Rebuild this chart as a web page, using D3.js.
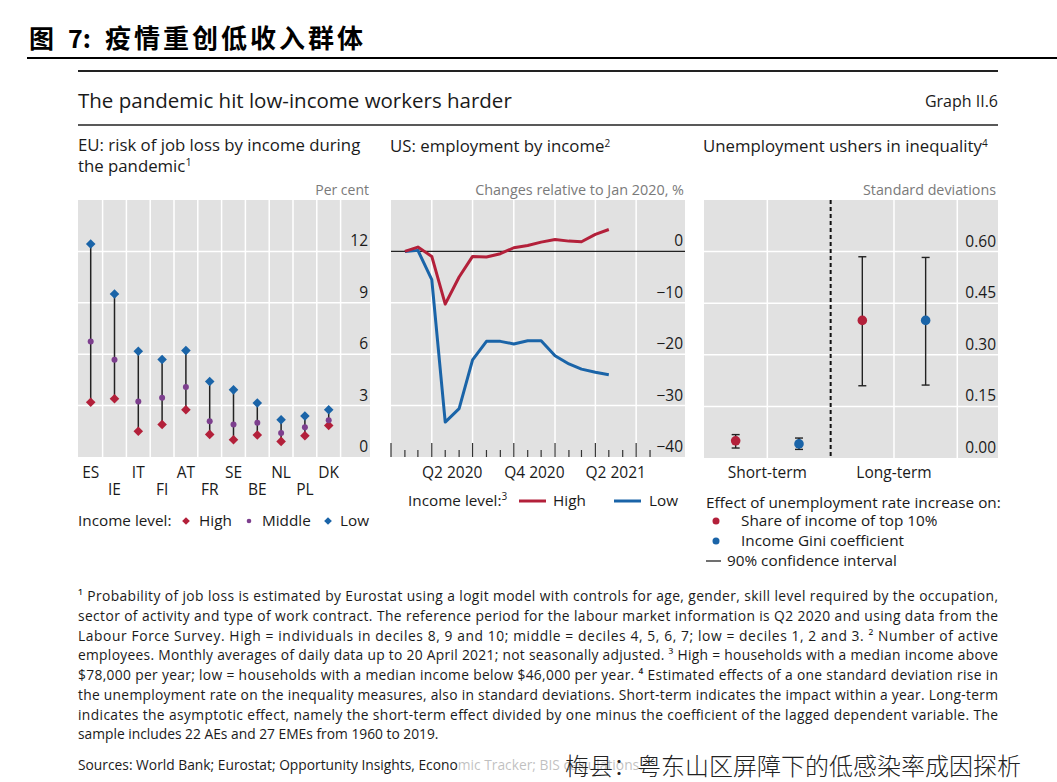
<!DOCTYPE html>
<html><head><meta charset="utf-8">
<script src="https://cdn.jsdelivr.net/npm/d3@7"></script>
<style>
html,body{margin:0;padding:0;background:#fff;}
svg{display:block;}
text{font-family:"Open Sans",sans-serif;}
</style></head>
<body>
<svg id="chart" width="1057" height="782"></svg>
<script>
// ---------- DATA ----------
const countriesTop = ["ES","IT","AT","SE","NL","DK"];
const countries = ["ES","IE","IT","FI","AT","FR","SE","BE","NL","PL","DK"];
const euHigh   = [3.2, 3.4, 1.5, 1.9, 2.76, 1.32, 1.01, 1.28, 0.91, 1.24, 1.84];
const euMiddle = [6.74, 5.67, 3.24, 3.46, 4.08, 2.08, 1.9, 2.0, 1.4, 1.73, 2.14];
const euLow    = [12.43, 9.51, 6.17, 5.69, 6.21, 4.41, 3.92, 3.15, 2.17, 2.39, 2.76];
const euTicks  = [0, 3, 6, 9, 12];

const usMonths = ["2020-01","2020-02","2020-03","2020-04","2020-05","2020-06","2020-07","2020-08",
                  "2020-09","2020-10","2020-11","2020-12","2021-01","2021-02","2021-03","2021-04"];
const usHigh = [0, 0.84, -0.97, -10.26, -4.97, -0.97, -1.1, -0.45, 0.71, 1.16, 1.8, 2.3, 2.0, 1.87, 3.3, 4.26];
const usLow  = [0, 0.2, -5.5, -33.2, -30.6, -21.1, -17.5, -17.5, -18.0, -17.4, -17.4, -20.3, -21.9, -22.9, -23.5, -24.0];
const usTicks = [-40, -30, -20, -10, 0];
const usQuarterLabels = ["Q2 2020","Q4 2020","Q2 2021"];
const usQuarterStarts = ["2020-04","2020-10","2021-04"];

const ineqHorizons = ["Short-term","Long-term"];
const top10Est = [0.05, 0.40];
const top10Lo  = [0.029, 0.21];
const top10Hi  = [0.068, 0.585];
const giniEst  = [0.041, 0.40];
const giniLo   = [0.025, 0.212];
const giniHi   = [0.058, 0.583];
const ineqTicks = [0, 0.15, 0.30, 0.45, 0.60];

const footnotes = [
 "¹ Probability of job loss is estimated by Eurostat using a logit model with controls for age, gender, skill level required by the occupation,",
 "sector of activity and type of work contract. The reference period for the labour market information is Q2 2020 and using data from the",
 "Labour Force Survey. High = individuals in deciles 8, 9 and 10; middle = deciles 4, 5, 6, 7; low = deciles 1, 2 and 3.   ² Number of active",
 "employees. Monthly averages of daily data up to 20 April 2021; not seasonally adjusted.   ³ High = households with a median income above",
 "$78,000 per year; low = households with a median income below $46,000 per year.   ⁴ Estimated effects of a one standard deviation rise in",
 "the unemployment rate on the inequality measures, also in standard deviations. Short-term indicates the impact within a year. Long-term",
 "indicates the asymptotic effect, namely the short-term effect divided by one minus the coefficient of the lagged dependent variable. The",
 "sample includes 22 AEs and 27 EMEs from 1960 to 2019."
];

// ---------- STYLE ----------
const RED = "#b3203a", BLUE = "#1a64a8", PURPLE = "#7d3f8e", GRIDBG = "#e1e1e1", TXT = "#1a1a1a", GREY = "#7a7a7a";
const svg = d3.select("#chart");

// Header
const cjk = "'Noto Sans CJK SC',sans-serif";
svg.append("text").attr("x", 29).attr("y", 48).style("font-family", cjk).style("font-weight", "700")
  .style("font-size", "25px").attr("fill", "#000").text("图");
svg.append("text").attr("x", 68).attr("y", 48).style("font-family", cjk).style("font-weight", "700")
  .style("font-size", "25px").attr("fill", "#000").text("7:");
svg.append("text").attr("x", 105).attr("y", 48).style("font-family", cjk).style("font-weight", "700")
  .style("font-size", "26px").style("letter-spacing", "3px").attr("fill", "#000").text("疫情重创低收入群体");
svg.append("line").attr("x1", 27).attr("x2", 1057).attr("y1", 58).attr("y2", 58).attr("stroke", "#000").attr("stroke-width", 2);

svg.append("line").attr("x1", 78).attr("x2", 998).attr("y1", 71).attr("y2", 71).attr("stroke", "#222").attr("stroke-width", 2);
svg.append("text").attr("x", 78).attr("y", 108).style("font-size", "20.5px").attr("fill", TXT).text("The pandemic hit low-income workers harder");
svg.append("text").attr("x", 998).attr("y", 107).attr("text-anchor", "end").style("font-size", "16px").attr("fill", TXT).text("Graph II.6");
svg.append("line").attr("x1", 78).attr("x2", 998).attr("y1", 125).attr("y2", 125).attr("stroke", "#222").attr("stroke-width", 1.5);

// panel titles
function ptitle(x, y, lines, fs, sx) {
  const t = svg.append("g").attr("transform", `translate(${x},0) scale(${sx},1)`)
    .append("text").attr("x", 0).attr("y", y).style("font-size", fs + "px").attr("fill", TXT);
  lines.forEach((parts, li) => {
    parts.forEach((p, pi) => {
      const ts = t.append("tspan");
      if (pi === 0 && li > 0) ts.attr("x", 0).attr("dy", 21);
      if (p.sup) ts.attr("dy", -5.5).style("font-size", "10px");
      ts.text(p.t);
    });
  });
}
ptitle(78, 151, [[{t:"EU: risk of job loss by income during"}], [{t:"the pandemic"},{t:"1",sup:true}]], 15.4, 1.09);
ptitle(390, 152, [[{t:"US: employment by income"},{t:"2",sup:true}]], 16.8, 1);
ptitle(703, 152, [[{t:"Unemployment ushers in inequality"},{t:"4",sup:true}]], 16.8, 1);

function unitLabel(x, t, fs) {
  svg.append("text").attr("x", x).attr("y", 195).attr("text-anchor", "end")
    .style("font-size", fs).attr("fill", GREY).text(t);
}
unitLabel(369, "Per cent", "14px");
unitLabel(684, "Changes relative to Jan 2020, %", "14.4px");
unitLabel(996, "Standard deviations", "14.3px");

const TOP = 200, BOT = 457;

function yAxisLabels(g, scale, ticks, xr, fmt) {
  g.selectAll(null).data(ticks).enter().append("text")
    .attr("x", xr).attr("y", d => scale(d) - 5).attr("text-anchor", "end")
    .style("font-size", "15.5px").attr("fill", TXT).text(fmt);
}
function hGrid(g, scale, ticks, x0, x1) {
  g.selectAll(null).data(ticks).enter().append("line")
    .attr("x1", x0).attr("x2", x1).attr("y1", d => scale(d)).attr("y2", d => scale(d))
    .attr("stroke", "#fff").attr("stroke-width", 1.5);
}

// ---------- PANEL 1 ----------
{
  const L = 78, R = 370;
  const g = svg.append("g");
  g.append("rect").attr("x", L).attr("y", TOP).attr("width", R - L).attr("height", BOT - TOP).attr("fill", GRIDBG);
  const x = d3.scaleBand().domain(countries).range([78.8, 340.6]).padding(0);
  const y = d3.scaleLinear().domain([0, 15]).range([BOT, TOP]);
  hGrid(g, y, euTicks.filter(d => d > 0), L, R);
  g.selectAll(null).data(countries).enter().append("line")
    .attr("x1", d => x(d) + x.bandwidth()).attr("x2", d => x(d) + x.bandwidth())
    .attr("y1", TOP).attr("y2", BOT).attr("stroke", "#fff").attr("stroke-width", 1.5);
  yAxisLabels(g, y, euTicks, 368, d => d);
  const cx = d => x(d) + x.bandwidth() / 2;
  g.selectAll(null).data(countries).enter().append("line")
    .attr("x1", cx).attr("x2", cx).attr("y1", (d, i) => y(euLow[i])).attr("y2", (d, i) => y(euHigh[i]))
    .attr("stroke", "#222").attr("stroke-width", 1.5);
  const diamond = d3.symbol().type(d3.symbolSquare).size(46);
  g.selectAll(null).data(countries).enter().append("path").attr("d", diamond)
    .attr("transform", (d, i) => `translate(${cx(d)},${y(euHigh[i])}) rotate(45)`).attr("fill", RED);
  g.selectAll(null).data(countries).enter().append("circle")
    .attr("cx", cx).attr("cy", (d, i) => y(euMiddle[i])).attr("r", 3).attr("fill", PURPLE);
  g.selectAll(null).data(countries).enter().append("path").attr("d", diamond)
    .attr("transform", (d, i) => `translate(${cx(d)},${y(euLow[i])}) rotate(45)`).attr("fill", BLUE);
  g.selectAll(null).data(countries).enter().append("text")
    .attr("x", cx).attr("y", d => countriesTop.includes(d) ? 478 : 495).attr("text-anchor", "middle")
    .style("font-size", "15.5px").attr("fill", TXT).text(d => d);
  // legend
  const ly = 526;
  g.append("text").attr("x", 78).attr("y", ly).style("font-size", "15.3px").attr("fill", TXT).text("Income level:");
  g.append("path").attr("d", d3.symbol().type(d3.symbolSquare).size(30)).attr("transform", `translate(186,${ly - 5}) rotate(45)`).attr("fill", RED);
  g.append("text").attr("x", 199).attr("y", ly).style("font-size", "15.3px").attr("fill", TXT).text("High");
  g.append("circle").attr("cx", 249).attr("cy", ly - 5).attr("r", 2.3).attr("fill", PURPLE);
  g.append("text").attr("x", 262).attr("y", ly).style("font-size", "15.3px").attr("fill", TXT).text("Middle");
  g.append("path").attr("d", d3.symbol().type(d3.symbolSquare).size(30)).attr("transform", `translate(328,${ly - 5}) rotate(45)`).attr("fill", BLUE);
  g.append("text").attr("x", 340).attr("y", ly).style("font-size", "15.3px").attr("fill", TXT).text("Low");
}

// ---------- PANEL 2 ----------
{
  const L = 391, R = 685;
  const g = svg.append("g");
  g.append("rect").attr("x", L).attr("y", TOP).attr("width", R - L).attr("height", BOT - TOP).attr("fill", GRIDBG);
  const parse = d3.timeParse("%Y-%m");
  const x = d3.scaleTime().domain([new Date(2020, 0, 1), new Date(2021, 9, 18)]).range([L, R]);
  const y = d3.scaleLinear().domain([-40, 10]).range([BOT, TOP]);
  hGrid(g, y, usTicks.filter(d => d !== 0 && d !== -40), L, R);
  const quarters = d3.timeMonth.every(3).range(new Date(2020, 3, 1), new Date(2021, 7, 1));
  g.selectAll(null).data(quarters).enter().append("line")
    .attr("x1", d => x(d)).attr("x2", d => x(d)).attr("y1", TOP).attr("y2", BOT)
    .attr("stroke", "#fff").attr("stroke-width", 1.5);
  g.append("line").attr("x1", L).attr("x2", R).attr("y1", y(0)).attr("y2", y(0)).attr("stroke", "#222").attr("stroke-width", 1.3);
  const months = d3.timeMonth.range(new Date(2020, 0, 1), new Date(2021, 7, 2));
  g.selectAll(null).data(months).enter().append("line")
    .attr("x1", d => x(d)).attr("x2", d => x(d))
    .attr("y1", d => d.getMonth() % 3 === 0 ? BOT - 14 : BOT - 7).attr("y2", BOT)
    .attr("stroke", "#333").attr("stroke-width", 1.2);
  yAxisLabels(g, y, usTicks, 683, d => d < 0 ? "\u2212" + Math.abs(d) : d);
  const pt = m => d3.timeMonth.offset(parse(m), 1);
  const line = d3.line().x(d => x(pt(d.m))).y(d => y(d.v));
  g.append("path").datum(usMonths.map((m, i) => ({m, v: usLow[i]})))
    .attr("d", line).attr("fill", "none").attr("stroke", BLUE).attr("stroke-width", 3).attr("stroke-linejoin", "round");
  g.append("path").datum(usMonths.map((m, i) => ({m, v: usHigh[i]})))
    .attr("d", line).attr("fill", "none").attr("stroke", RED).attr("stroke-width", 3).attr("stroke-linejoin", "round");
  g.selectAll(null).data(usQuarterLabels).enter().append("text")
    .attr("x", (d, i) => { const s = parse(usQuarterStarts[i]); return (x(s) + x(d3.timeMonth.offset(s, 3))) / 2; })
    .attr("y", 478).attr("text-anchor", "middle").style("font-size", "15.5px").attr("fill", TXT).text(d => d);
  // legend
  const ly = 506;
  const t = g.append("text").attr("x", 408).attr("y", ly).style("font-size", "15.3px").attr("fill", TXT);
  t.append("tspan").text("Income level:");
  t.append("tspan").attr("dy", -6).style("font-size", "10px").text("3");
  g.append("line").attr("x1", 519).attr("x2", 546).attr("y1", ly - 5).attr("y2", ly - 5).attr("stroke", RED).attr("stroke-width", 3);
  g.append("text").attr("x", 553).attr("y", ly).style("font-size", "15.3px").attr("fill", TXT).text("High");
  g.append("line").attr("x1", 614).attr("x2", 641).attr("y1", ly - 5).attr("y2", ly - 5).attr("stroke", BLUE).attr("stroke-width", 3);
  g.append("text").attr("x", 649).attr("y", ly).style("font-size", "15.3px").attr("fill", TXT).text("Low");
}

// ---------- PANEL 3 ----------
{
  const L = 704, R = 998;
  const g = svg.append("g");
  g.append("rect").attr("x", L).attr("y", TOP).attr("width", R - L).attr("height", BOT + 1 - TOP).attr("fill", GRIDBG);
  const slots = ["s-top10","s-gini","l-top10","l-gini"];
  const x = d3.scaleBand().domain(slots).range([704, 957.3]).padding(0);
  const y = d3.scaleLinear().domain([0, 0.75]).range([BOT + 1, TOP]);
  hGrid(g, y, ineqTicks.filter(d => d > 0), L, R);
  slots.forEach((s, i) => {
    const xx = x(s) + x.bandwidth();
    const ln = g.append("line").attr("x1", xx).attr("x2", xx).attr("y1", TOP).attr("y2", BOT + 1);
    if (i === 1) ln.attr("stroke", "#111").attr("stroke-width", 2).attr("stroke-dasharray", "4,3");
    else ln.attr("stroke", "#fff").attr("stroke-width", 1.5);
  });
  yAxisLabels(g, y, ineqTicks, 996, d => d3.format(".2f")(d));
  const pts = [];
  ineqHorizons.forEach((h, i) => {
    pts.push({slot: slots[i * 2], est: top10Est[i], lo: top10Lo[i], hi: top10Hi[i], c: RED});
    pts.push({slot: slots[i * 2 + 1], est: giniEst[i], lo: giniLo[i], hi: giniHi[i], c: BLUE});
  });
  const cx = d => x(d.slot) + x.bandwidth() / 2;
  g.selectAll(null).data(pts).enter().append("line")
    .attr("x1", cx).attr("x2", cx).attr("y1", d => y(d.lo)).attr("y2", d => y(d.hi)).attr("stroke", "#222").attr("stroke-width", 1.4);
  ["lo","hi"].forEach(k => {
    g.selectAll(null).data(pts).enter().append("line")
      .attr("x1", d => cx(d) - 4).attr("x2", d => cx(d) + 4).attr("y1", d => y(d[k])).attr("y2", d => y(d[k]))
      .attr("stroke", "#222").attr("stroke-width", 1.4);
  });
  g.selectAll(null).data(pts).enter().append("circle")
    .attr("cx", cx).attr("cy", d => y(d.est)).attr("r", 4.8).attr("fill", d => d.c);
  g.selectAll(null).data(ineqHorizons).enter().append("text")
    .attr("x", (d, i) => x(slots[i * 2]) + x.bandwidth()).attr("y", 478).attr("text-anchor", "middle")
    .style("font-size", "15.5px").attr("fill", TXT).text(d => d);
  // legend
  g.append("text").attr("x", 706).attr("y", 508).style("font-size", "15.3px").attr("fill", TXT).text("Effect of unemployment rate increase on:");
  g.append("circle").attr("cx", 716).attr("cy", 521).attr("r", 3.5).attr("fill", RED);
  g.append("text").attr("x", 741).attr("y", 526).style("font-size", "15.3px").attr("fill", TXT).text("Share of income of top 10%");
  g.append("circle").attr("cx", 716).attr("cy", 541).attr("r", 3.5).attr("fill", BLUE);
  g.append("text").attr("x", 741).attr("y", 546).style("font-size", "15.3px").attr("fill", TXT).text("Income Gini coefficient");
  g.append("line").attr("x1", 706).attr("x2", 721).attr("y1", 561).attr("y2", 561).attr("stroke", "#222").attr("stroke-width", 1.3);
  g.append("text").attr("x", 727).attr("y", 566).style("font-size", "15.3px").attr("fill", TXT).text("90% confidence interval");
}

// ---------- FOOTNOTES ----------
const fy = [601, 621, 641, 660, 680, 700, 720, 739];
footnotes.forEach((t, i) => {
  const el = svg.append("text").attr("x", 78).attr("y", fy[i]).style("font-size", "13.8px").attr("fill", TXT).text(t);
  if (i < footnotes.length - 1) el.attr("textLength", 920).attr("lengthAdjust", "spacing");
});
svg.append("text").attr("x", 78).attr("y", 770).style("font-size", "13.8px").attr("fill", TXT)
  .text("Sources: World Bank; Eurostat; Opportunity Insights, Economic Tracker; BIS calculations.");
// watermark overlay
svg.append("rect").attr("x", 458).attr("y", 752).attr("width", 600).attr("height", 30).attr("fill", "#fff").attr("opacity", 0.72);
svg.append("text").attr("x", 565).attr("y", 775).style("font-family", cjk)
  .style("font-size", "24px").style("font-weight", "300").attr("fill", "#222").text("梅县：粤东山区屏障下的低感染率成因探析");
</script>
</body></html>
